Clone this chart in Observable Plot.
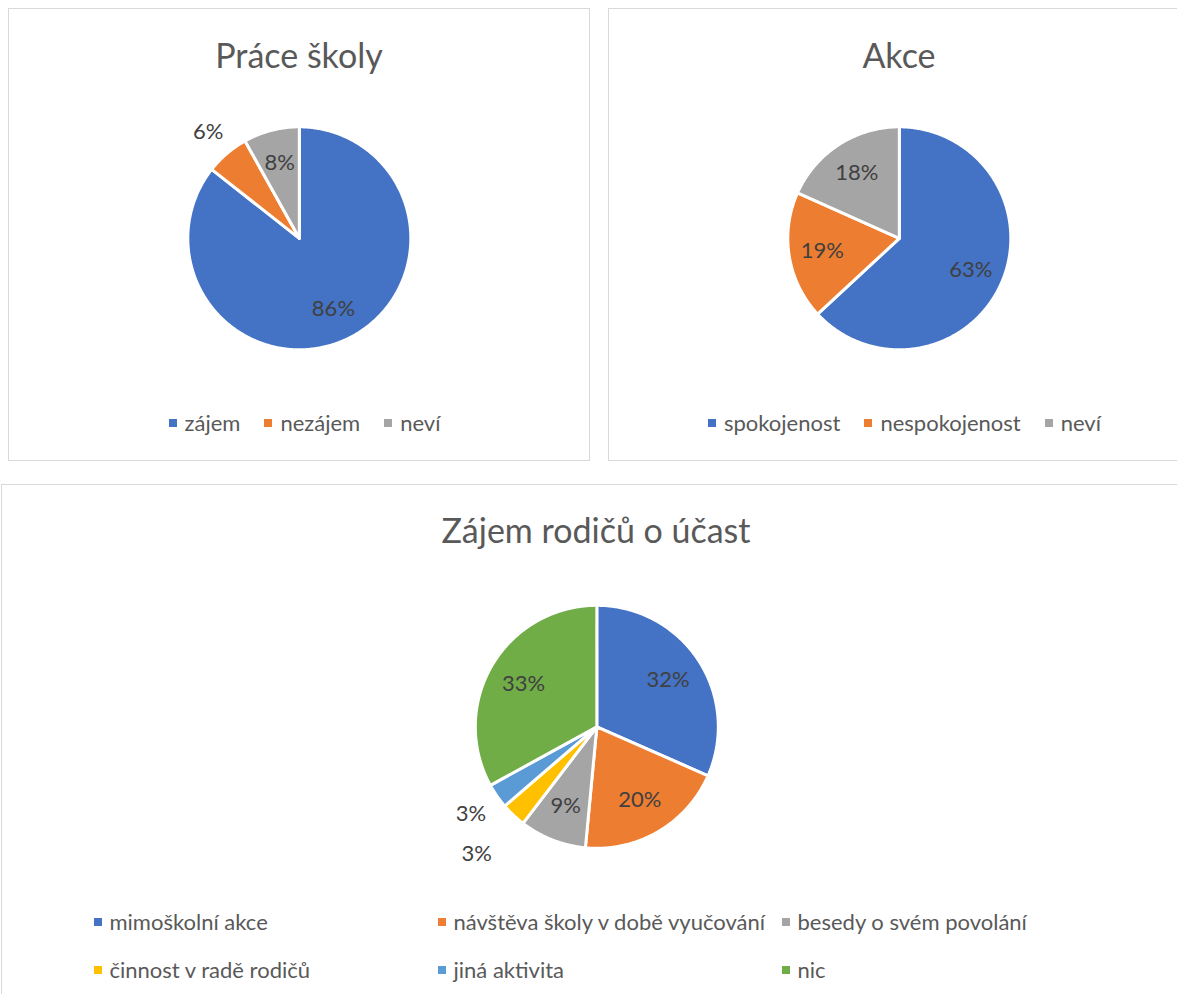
<!DOCTYPE html>
<html>
<head>
<meta charset="utf-8">
<script src="https://cdn.jsdelivr.net/npm/d3@7"></script>
<script src="https://cdn.jsdelivr.net/npm/@observablehq/plot@0.6"></script>
<style>
  body { margin: 0; background: #fff; font-family: Lato, "Open Sans", sans-serif; }
  #root { position: relative; width: 1177px; height: 994px; overflow: hidden; background: #fff; }
  .panel { position: absolute; border: 1px solid #d9d9d9; box-sizing: border-box; background: #fff; }
  .title { position: absolute; left: 0; right: 0; text-align: center; color: #595959; font-size: 34px; line-height: 40px; white-space: nowrap; }
  .legend { position: absolute; left: 0; right: 0; display: flex; justify-content: center; align-items: center; height: 28px; color: #595959; font-size: 22px; white-space: nowrap; }
  .item { display: flex; align-items: center; margin: 0 12px; }
  .sw { width: 8px; height: 8px; margin-right: 8px; flex: none; }
  .grid { position: absolute; display: grid; grid-template-columns: 344px 344px 344px; row-gap: 20px; color: #595959; font-size: 22px; white-space: nowrap; }
  .grid .item { margin: 0; height: 28px; }
  .pie { position: absolute; }
</style>
</head>
<body>
<div id="root"></div>
<script>
// ---- data ----
const chart1Title = "Práce školy";
const chart1Labels = ["zájem", "nezájem", "neví"];
const chart1Values = [85.6, 6.3, 8.1];

const chart2Title = "Akce";
const chart2Labels = ["spokojenost", "nespokojenost", "neví"];
const chart2Values = [63.1, 18.6, 18.3];

const chart3Title = "Zájem rodičů o účast";
const chart3Labels = ["mimoškolní akce", "návštěva školy v době vyučování", "besedy o svém povolání", "činnost v radě rodičů", "jiná aktivita", "nic"];
const chart3Values = [31.6, 19.9, 8.9, 3.3, 3.3, 33.0];

const palette = ["#4472C4", "#ED7D31", "#A5A5A5", "#FFC000", "#5B9BD5", "#70AD47"];

// ---- helpers ----
const root = document.getElementById("root");

function panel(left, top, w, h) {
  const p = document.createElement("div");
  p.className = "panel";
  Object.assign(p.style, {left: left + "px", top: top + "px", width: w + "px", height: h + "px"});
  root.appendChild(p);
  return p;
}

function title(p, text, top) {
  const t = document.createElement("div");
  t.className = "title";
  t.style.top = top + "px";
  t.textContent = text;
  p.appendChild(t);
}

function legendItem(label, color) {
  const it = document.createElement("div");
  it.className = "item";
  const sw = document.createElement("span");
  sw.className = "sw";
  sw.style.background = color;
  const tx = document.createElement("span");
  tx.textContent = label;
  it.appendChild(sw); it.appendChild(tx);
  return it;
}

function rowLegend(p, labels, top, shift) {
  const l = document.createElement("div");
  l.className = "legend";
  l.style.top = top + "px";
  l.style.paddingLeft = shift + "px";
  labels.forEach((d, i) => l.appendChild(legendItem(d, palette[i])));
  p.appendChild(l);
}

function gridLegend(p, labels, left, top) {
  const g = document.createElement("div");
  g.className = "grid";
  g.style.left = left + "px";
  g.style.top = top + "px";
  labels.forEach((d, i) => g.appendChild(legendItem(d, palette[i])));
  p.appendChild(g);
}

function pieChart(labels, values, r, k) {
  const arcs = d3.pie().sort(null).value(d => d)(values);
  const total = d3.sum(values);
  const pts = [];
  arcs.forEach((a, i) => {
    const n = Math.max(2, Math.ceil((a.endAngle - a.startAngle) / 0.01));
    pts.push({key: labels[i], x: 0, y: 0});
    for (let j = 0; j <= n; j++) {
      const t = a.startAngle + (a.endAngle - a.startAngle) * j / n;
      pts.push({key: labels[i], x: Math.sin(t), y: Math.cos(t)});
    }
    pts.push({key: labels[i], x: 0, y: 0});
  });
  // labels: inside at 0.7 radius, small slices outside with simple collision push
  const lbls = arcs.map((a, i) => {
    const mid = (a.startAngle + a.endAngle) / 2;
    const frac = values[i] / total;
    return {mid, outside: frac < 0.07, text: Math.round(frac * 100) + "%", rad: frac < 0.07 ? 1.26 : 0.7};
  });
  const placed = [];
  for (let i = lbls.length - 1; i >= 0; i--) {
    const L = lbls[i];
    if (!L.outside) continue;
    const pos = () => [Math.sin(L.mid) * L.rad, Math.cos(L.mid) * L.rad];
    let guard = 0;
    while (placed.some(q => { const [x, y] = pos(); return Math.hypot(x - q[0], y - q[1]) * r < 40; }) && guard++ < 200) L.rad += 0.01;
    placed.push(pos());
  }
  lbls.forEach(L => { L.x = Math.sin(L.mid) * L.rad; L.y = Math.cos(L.mid) * L.rad; });
  const size = 2 * r * k;
  return Plot.plot({
    width: size, height: size, margin: 0,
    style: {background: "transparent", overflow: "visible", fontFamily: "Lato, 'Open Sans', sans-serif"},
    x: {domain: [-k, k], axis: null},
    y: {domain: [-k, k], axis: null},
    color: {domain: labels, range: palette},
    marks: [
      Plot.line(pts, {x: "x", y: "y", z: "key", fill: "key", stroke: "white", strokeWidth: 3, strokeLinejoin: "round", curve: "linear"}),
      Plot.text(lbls, {x: "x", y: "y", text: "text", fill: "#404040", fontSize: 22})
    ]
  });
}

function placePie(p, svg, cx, cy, size) {
  const d = document.createElement("div");
  d.className = "pie";
  d.style.left = (cx - size / 2) + "px";
  d.style.top = (cy - size / 2) + "px";
  d.appendChild(svg);
  p.appendChild(d);
}

// ---- panel 1 ----
{
  const L = 8, T = 8;
  const p = panel(L, T, 582, 453);
  title(p, chart1Title, 26);
  const r = 111.5, k = 1.55;
  placePie(p, pieChart(chart1Labels, chart1Values, r, k), 299.3 - L - 1, 238.3 - T - 1, 2 * r * k);
  rowLegend(p, chart1Labels, 422.5 - T - 1 - 14, 11);
}
// ---- panel 2 ----
{
  const L = 608, T = 8;
  const p = panel(L, T, 582, 453);
  title(p, chart2Title, 26);
  const r = 111.5, k = 1.55;
  placePie(p, pieChart(chart2Labels, chart2Values, r, k), 899.3 - L - 1, 238.3 - T - 1, 2 * r * k);
  rowLegend(p, chart2Labels, 422.5 - T - 1 - 14, 11);
}
// ---- panel 3 ----
{
  const L = 1, T = 484;
  const p = panel(L, T, 1190, 530);
  title(p, chart3Title, 510 - T - 1);
  const r = 121.5, k = 1.55;
  placePie(p, pieChart(chart3Labels, chart3Values, r, k), 596 - L - 1, 726.5 - T - 1, 2 * r * k);
  gridLegend(p, chart3Labels, 93.5 - L - 1, 921.5 - T - 1 - 14);
}
</script>
</body>
</html>
